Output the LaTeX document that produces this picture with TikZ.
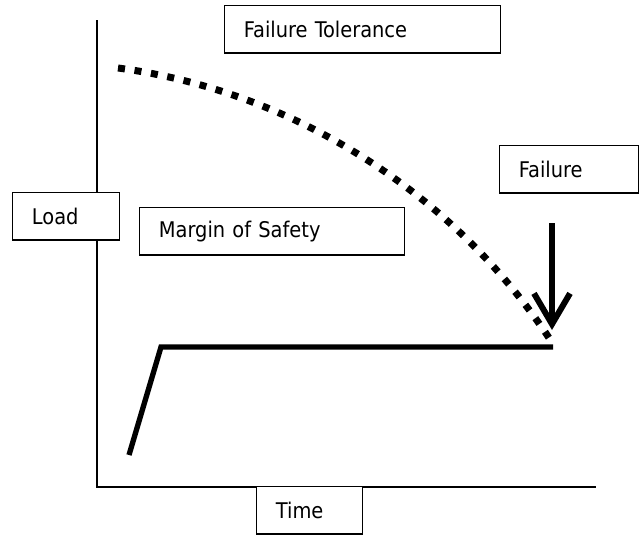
\documentclass[tikz,border=0pt]{standalone}
\usepackage{fontspec}
\setmainfont{DejaVu Sans Condensed}
\usetikzlibrary{arrows.meta}
\newcommand{\labelfont}{\fontsize{16.2pt}{19pt}\selectfont}
\tikzset{
  labelbox/.style={draw, line width=0.9pt, fill=white, anchor=north west, minimum height=35.5pt, inner xsep=14.5pt, align=left, font=\labelfont},
  thickline/.style={line width=4pt, line join=miter},
}
\begin{document}
\begin{tikzpicture}[x=0.75pt,y=0.75pt,yscale=-1,xscale=1]
        \useasboundingbox (0,0) rectangle (642,536);

        %Straight Lines (axes)
        \draw [line width=1.5pt]   (97,20) -- (97,487) -- (596,487) ;
        %Curve Lines
        \draw [line width=5.25pt, dash pattern=on 5.25pt off 7.25pt]   (118,68) .. controls (300,92) and (460,200) .. (553,344) ;
        %Straight Lines (load)
        \draw [thickline]   (129,455) -- (161,347) -- (553,347) ;
        %Straight Lines (failure arrow)
        \coordinate (arrowtop) at (552,223);
        \coordinate (arrowtip) at (552,330);
        \draw [line width=4.5pt, -{Straight Barb[length=23pt,width=27pt]}]   (arrowtop) -- (arrowtip) ;

        % Text Node
        \node [labelbox, text width=178pt] (tolerance) at (224,5) {Failure Tolerance};
        % Text Node
        \node [labelbox, text width=51.25pt] (load) at (12,192) {Load};
        % Text Node
        \node [labelbox, text width=169.75pt] (margin) at (139,207) {Margin of Safety};
        % Text Node
        \node [labelbox, text width=75.25pt] (failure) at (499,145) {Failure};
        % Text Node
        \node [labelbox, text width=50.5pt] (time) at (256,486) {Time};
    \end{tikzpicture}
\end{document}
